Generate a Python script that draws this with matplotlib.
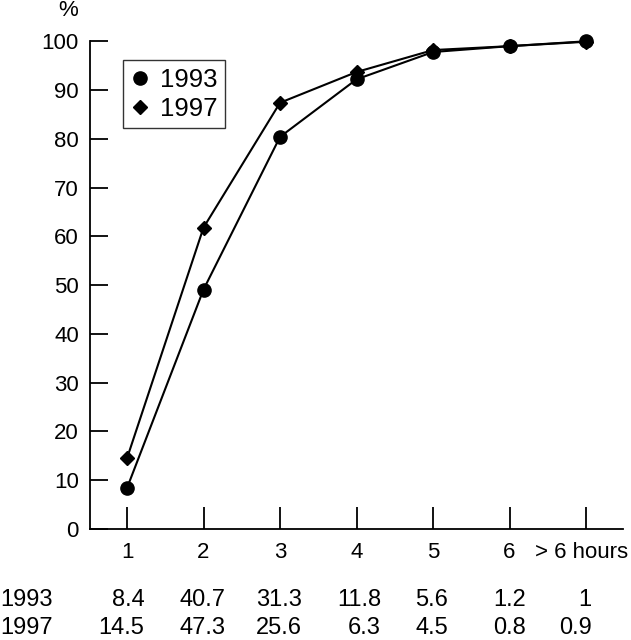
import matplotlib
matplotlib.use("Agg")
import matplotlib.pyplot as plt
from matplotlib.lines import Line2D
import matplotlib.transforms as mtransforms

plt.rcParams['font.family'] = ['Liberation Sans', 'DejaVu Sans']

hours = [1, 2, 3, 4, 5, 6, 7]
tick_labels = ['1', '2', '3', '4', '5', '6', '> 6 hours']
cum_1993 = [8.4, 49.1, 80.4, 92.2, 97.8, 99.0, 100.0]
cum_1997 = [14.5, 61.8, 87.4, 93.7, 98.2, 99.0, 99.9]
row_1993 = ['8.4', '40.7', '31.3', '11.8', '5.6', '1.2', '1']
row_1997 = ['14.5', '47.3', '25.6', '6.3', '4.5', '0.8', '0.9']

FS = 16
TFS = 17

fig = plt.figure(figsize=(6.31, 6.40), dpi=100)
ax = fig.add_axes([0.1426, 0.1734, 0.8444, 0.7621])

ax.plot(hours, cum_1993, color='black', lw=1.5, marker='o', ms=9.5, clip_on=False)
ax.plot(hours, cum_1997, color='black', lw=1.5, marker='D', ms=7.5, clip_on=False)

ax.set_xlim(0.516, 7.48)
ax.set_ylim(0, 100)
ax.set_yticks(range(0, 101, 10))
ax.set_xticks(hours)
ax.set_xticklabels(tick_labels)
ax.spines['top'].set_visible(False)
ax.spines['right'].set_visible(False)
for s in ['left', 'bottom']:
    ax.spines[s].set_linewidth(1.3)
ax.tick_params(axis='y', direction='in', length=13, width=1.3, labelsize=FS, pad=8)
ax.tick_params(axis='x', direction='in', length=16, width=1.3, labelsize=FS, pad=9)
last = ax.get_xticklabels()[-1]
last.set_transform(last.get_transform() + mtransforms.ScaledTranslation(-5 / 100, 0, fig.dpi_scale_trans))
ax.text(-0.041, 1.064, '%', transform=ax.transAxes, fontsize=FS, ha='center', va='center')

handles = [Line2D([], [], color='black', marker='o', ms=9.5, ls='None'),
           Line2D([], [], color='black', marker='D', ms=7.5, ls='None')]
leg = ax.legend(handles, ['1993', '1997'], loc='upper left', bbox_to_anchor=(0.062, 0.962),
                fontsize=18.5, frameon=True, fancybox=False, handlelength=0.7,
                handletextpad=0.45, borderpad=0.3, labelspacing=0.2, borderaxespad=0)
leg.get_frame().set_edgecolor('black')
leg.get_frame().set_linewidth(1.0)

# table below
offsets = [0.23, 0.29, 0.29, 0.32, 0.20, 0.21, 0.07]
fig.text(0.0, 1 - 600 / 640, '1993', fontsize=TFS, ha='left', va='center')
fig.text(0.0, 1 - 628 / 640, '1997', fontsize=TFS, ha='left', va='center')
for h, off, a, b in zip(hours, offsets, row_1993, row_1997):
    xf = ax.transData.transform((h + off, 0))[0] / fig.bbox.width
    fig.text(xf, 1 - 600 / 640, a, fontsize=TFS, ha='right', va='center')
    fig.text(xf, 1 - 628 / 640, b, fontsize=TFS, ha='right', va='center')

fig.savefig('out.png', dpi=100)
